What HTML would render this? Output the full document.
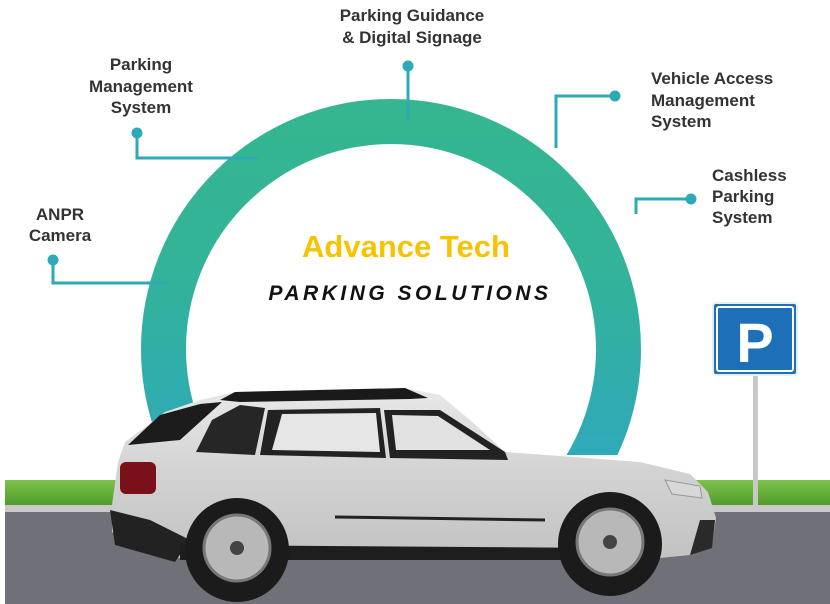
<!DOCTYPE html>
<html><head><meta charset="utf-8"><style>
html,body{margin:0;padding:0;background:#fff;}
svg{display:block}
text{font-family:"Liberation Sans",sans-serif;}
</style></head><body>
<svg width="830" height="604" viewBox="0 0 830 604" xmlns="http://www.w3.org/2000/svg">
<defs>
<linearGradient id="ring" x1="0" y1="99" x2="0" y2="480" gradientUnits="userSpaceOnUse">
<stop offset="0" stop-color="#35b68f"/><stop offset="0.45" stop-color="#33b399"/><stop offset="1" stop-color="#2ea8bd"/></linearGradient>
<linearGradient id="body" x1="0" y1="390" x2="0" y2="560" gradientUnits="userSpaceOnUse">
<stop offset="0" stop-color="#e8e8e8"/><stop offset="0.5" stop-color="#d2d2d2"/><stop offset="1" stop-color="#c2c2c2"/></linearGradient>
<linearGradient id="grass" x1="0" y1="480" x2="0" y2="506" gradientUnits="userSpaceOnUse">
<stop offset="0" stop-color="#7dc24a"/><stop offset="1" stop-color="#4f9a2c"/></linearGradient>
<clipPath id="rc"><rect x="0" y="0" width="830" height="455"/></clipPath>
</defs>
<!-- ring -->
<circle cx="391" cy="349" r="227.5" fill="none" stroke="url(#ring)" stroke-width="45" clip-path="url(#rc)"/>
<!-- ground -->
<rect x="5" y="480" width="825" height="26" fill="url(#grass)"/>
<rect x="5" y="505" width="825" height="8" fill="#c9c9c9"/>
<rect x="5" y="512" width="825" height="92" fill="#6f7078"/>
<!-- sign -->
<rect x="753" y="372" width="5" height="134" fill="#c8c8c8"/>
<rect x="713" y="303" width="84" height="72" rx="3" fill="#1d6fb8" stroke="#e8eef5" stroke-width="2"/>
<rect x="717" y="307" width="76" height="64" rx="2" fill="none" stroke="#fff" stroke-width="2"/>
<text x="755" y="362" font-size="56" font-weight="bold" fill="#fff" text-anchor="middle">P</text>
<!-- connectors -->
<g stroke="#2eaab7" stroke-width="3" fill="none">
<path d="M408 66 V121"/>
<path d="M137 133 V158 H258"/>
<path d="M53 260 V283 H166"/>
<path d="M615 96 H556 V148"/>
<path d="M689 199 H636 V214"/>
</g>
<g fill="#2eaab7">
<circle cx="408" cy="66" r="5.5"/><circle cx="137" cy="133" r="5.5"/><circle cx="53" cy="260" r="5.5"/>
<circle cx="615" cy="96" r="5.5"/><circle cx="691" cy="199" r="5.5"/>
</g>
<!-- labels -->
<g font-size="17" font-weight="bold" fill="#333">
<text x="412" y="21" text-anchor="middle">Parking Guidance</text>
<text x="412" y="43" text-anchor="middle">&amp; Digital Signage</text>
<text x="141" y="70" text-anchor="middle">Parking</text>
<text x="141" y="92" text-anchor="middle">Management</text>
<text x="141" y="113" text-anchor="middle">System</text>
<text x="60" y="220" text-anchor="middle">ANPR</text>
<text x="60" y="241" text-anchor="middle">Camera</text>
<text x="651" y="84">Vehicle Access</text>
<text x="651" y="106">Management</text>
<text x="651" y="127">System</text>
<text x="712" y="181">Cashless</text>
<text x="712" y="202">Parking</text>
<text x="712" y="223">System</text>
</g>
<text x="406" y="257" font-size="31" font-weight="bold" fill="#f7c300" text-anchor="middle">Advance Tech</text>
<text x="410" y="300" font-size="21" font-weight="bold" font-style="italic" fill="#111" text-anchor="middle" letter-spacing="3.5">PARKING SOLUTIONS</text>
<!-- car -->
<g>
<path d="M200 400 L235 392 L405 388 L440 395 L470 420 L505 452 L560 456 L640 462 L690 474 L708 492 L716 518 L712 545 L690 555 L640 560 L560 556 L300 556 L200 560 L150 555 L112 532 L112 505 L118 462 L125 442 L165 412 Z" fill="url(#body)"/>
<path d="M128 445 L160 415 L200 404 L222 402 L180 440 Z" fill="#1c1c1c"/>
<path d="M196 452 L212 420 L240 405 L265 408 L255 455 Z" fill="#262626"/>
<path d="M260 455 L268 410 L380 408 L386 458 Z" fill="#222"/>
<path d="M272 450 L282 414 L376 413 L380 452 Z" fill="#e6e6e6"/>
<path d="M390 458 L384 410 L440 410 L505 452 L508 460 Z" fill="#222"/>
<path d="M396 450 L392 415 L438 416 L490 450 Z" fill="#e2e2e2"/>
<path d="M220 400 L235 392 L405 388 L428 398 L410 399 L240 402 Z" fill="#1a1a1a"/>
<rect x="120" y="462" width="36" height="32" rx="6" fill="#7a1018"/>
<path d="M110 510 L115 545 L175 562 L190 540 L150 520 Z" fill="#222"/>
<path d="M700 520 L715 520 L712 548 L690 555 Z" fill="#2a2a2a"/>
<path d="M335 517 L545 520" stroke="#222" stroke-width="3"/>
<path d="M180 545 L610 548 L615 560 L180 560 Z" fill="#1e1e1e"/>
<path d="M665 480 L700 486 L702 498 L672 494 Z" fill="#d8d8d8" stroke="#999"/>
<circle cx="237" cy="550" r="52" fill="#1b1b1b"/>
<circle cx="237" cy="548" r="33" fill="#b8b8b8" stroke="#777" stroke-width="3"/>
<circle cx="237" cy="548" r="7" fill="#444"/>
<circle cx="610" cy="544" r="52" fill="#1b1b1b"/>
<circle cx="610" cy="542" r="33" fill="#b8b8b8" stroke="#777" stroke-width="3"/>
<circle cx="610" cy="542" r="7" fill="#444"/>
</g>
</svg>
</body></html>
